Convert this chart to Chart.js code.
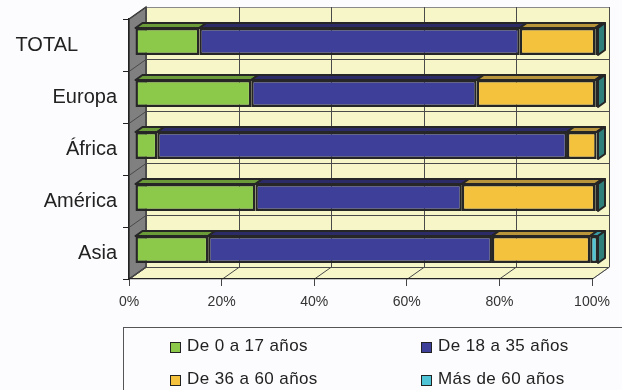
<!DOCTYPE html>
<html>
<head>
<meta charset="utf-8">
<script src="https://cdn.jsdelivr.net/npm/chart.js@4.4.1/dist/chart.umd.min.js"></script>
<style>
  html, body { margin: 0; padding: 0; background: #fcfcfe; }
  #wrap { position: relative; width: 622px; height: 390px; overflow: hidden; }
  #legendBox {
    position: absolute; left: 123px; top: 327px; width: 620px; height: 80px;
    border: 1px solid #555; box-sizing: border-box;
  }
  .lg-item {
    position: absolute; font: 17px "Liberation Sans", Arial, sans-serif;
    letter-spacing: 0.4px; color: #222; line-height: 17px; white-space: nowrap;
  }
  .lg-sw {
    position: absolute; width: 9px; height: 9px; border: 1.5px solid #222;
  }
</style>
</head>
<body>
<div id="wrap">
  <canvas id="edadChart" width="622" height="390"></canvas>
  <div id="legendBox"></div>
</div>
<script>
/* ── Data ─────────────────────────────────────────────────── */
var categories = ['TOTAL       ', 'Europa', 'África', 'América', 'Asia'];
var seriesLabels = ['De 0 a 17 años', 'De 18 a 35 años', 'De 36 a 60 años', 'Más de 60 años'];
var age0to17  = [13.9, 25.1,  4.8, 26.0, 15.8];
var age18to35 = [69.2, 48.7, 88.5, 44.6, 61.3];
var age36to60 = [16.3, 25.6,  6.4, 28.8, 21.2];
var age60plus = [ 0.6,  0.6,  0.3,  0.6,  1.7];
var xTicks = [0, 20, 40, 60, 80, 100];

/* ── Styling ──────────────────────────────────────────────── */
var frontColors = ['#8cc94b', '#3d3f99', '#f5c23e', '#4fc4d6'];
var topColors   = ['#6b9a38', '#2c2b68', '#b8953a', '#3a9aa6'];
var sideColor   = '#2f7f7a';
var wallColor   = '#f6f6c8';
var depthX = 17, depthY = 12;      // wall depth
var barDX = 7, barDY = 5;          // bar depth
var barShiftX = 6, barShiftY = -3.5;
var FONT = '"Liberation Sans", Arial, sans-serif';

/* ── 3D walls, grid and bar faces ─────────────────────────── */
var box3d = {
  id: 'box3d',
  beforeDraw: function(chart) {
    var ctx = chart.ctx, a = chart.chartArea;
    var xs = chart.scales.x;
    var L = a.left, R = a.right, T = a.top, B = a.bottom;
    ctx.save();
    // back wall
    ctx.fillStyle = wallColor;
    ctx.fillRect(L + depthX, T - depthY, R - L, B - T);
    // floor
    ctx.beginPath();
    ctx.moveTo(L, B); ctx.lineTo(L + depthX, B - depthY);
    ctx.lineTo(R + depthX, B - depthY); ctx.lineTo(R, B);
    ctx.closePath(); ctx.fill();
    // left wall
    ctx.fillStyle = '#808080';
    ctx.beginPath();
    ctx.moveTo(L, T); ctx.lineTo(L + depthX, T - depthY);
    ctx.lineTo(L + depthX, B - depthY); ctx.lineTo(L, B);
    ctx.closePath(); ctx.fill();
    ctx.strokeStyle = '#2a2a2a'; ctx.lineWidth = 1.2;
    ctx.stroke();

    // back wall outline
    ctx.strokeStyle = '#8a8a8a'; ctx.lineWidth = 1;
    ctx.beginPath();
    ctx.moveTo(L + depthX, T - depthY + 0.5); ctx.lineTo(R + depthX + 0.5, T - depthY + 0.5);
    ctx.lineTo(R + depthX + 0.5, B - depthY);
    ctx.lineTo(R + 0.5, B);
    ctx.stroke();

    // vertical grid lines on back wall + floor diagonals
    ctx.strokeStyle = '#4a4a4a'; ctx.lineWidth = 1;
    xTicks.forEach(function(v) {
      var px = Math.round(xs.getPixelForValue(v)) + 0.5;
      ctx.beginPath();
      ctx.moveTo(px + depthX, T - depthY); ctx.lineTo(px + depthX, B - depthY);
      ctx.lineTo(px, B);
      ctx.stroke();
    });
    // horizontal grid lines at category boundaries
    var n = categories.length;
    for (var i = 0; i <= n; i++) {
      var py = Math.round(T + (B - T) * i / n) + 0.5;
      ctx.beginPath();
      ctx.moveTo(L, py); ctx.lineTo(L + depthX, py - depthY);
      if (i > 0) ctx.lineTo(R + depthX, py - depthY);
      ctx.stroke();
    }
    ctx.restore();
  },
  beforeDatasetsDraw: function(chart) {
    chart.ctx.save();
    chart.ctx.translate(barShiftX, barShiftY);
  },
  afterDatasetsDraw: function(chart) {
    var ctx = chart.ctx;
    var nSets = chart.data.datasets.length;
    ctx.lineWidth = 2;
    ctx.strokeStyle = '#262626';
    ctx.lineJoin = 'round';
    for (var d = 0; d < nSets; d++) {
      var meta = chart.getDatasetMeta(d);
      meta.data.forEach(function(bar) {
        var p = bar.getProps(['x', 'y', 'base', 'height'], true);
        var left = Math.min(p.base, p.x), right = Math.max(p.base, p.x);
        var top = p.y - p.height / 2, bottom = p.y + p.height / 2;
        ctx.fillStyle = topColors[d];
        ctx.beginPath();
        ctx.moveTo(left, top); ctx.lineTo(left + barDX, top - barDY);
        ctx.lineTo(right + barDX, top - barDY); ctx.lineTo(right, top);
        ctx.closePath(); ctx.fill(); ctx.stroke();
        if (d === nSets - 1) {
          ctx.fillStyle = sideColor;
          ctx.beginPath();
          ctx.moveTo(right, top); ctx.lineTo(right + barDX, top - barDY);
          ctx.lineTo(right + barDX, bottom - barDY); ctx.lineTo(right, bottom);
          ctx.closePath(); ctx.fill(); ctx.stroke();
        }
      });
    }
    ctx.restore();
  }
};

/* ── Chart ────────────────────────────────────────────────── */
var seriesData = [age0to17, age18to35, age36to60, age60plus];
var datasets = seriesData.map(function(vals, i) {
  return {
    label: seriesLabels[i],
    data: vals,
    backgroundColor: frontColors[i],
    borderColor: '#262626',
    borderWidth: 2.4,
    borderSkipped: false,
    barPercentage: 0.52,
    categoryPercentage: 1,
    clip: false
  };
});

new Chart(document.getElementById('edadChart'), {
  type: 'bar',
  data: { labels: categories, datasets: datasets },
  plugins: [box3d],
  options: {
    indexAxis: 'y',
    responsive: false,
    animation: false,
    events: [],
    layout: { padding: { top: 19, right: 30, bottom: 71, left: 0 } },
    plugins: { legend: { display: false }, tooltip: { enabled: false } },
    scales: {
      x: {
        stacked: true, min: 0, max: 100,
        afterFit: function(s) { s.height = 40; },
        ticks: {
          stepSize: 20, padding: 8, color: '#333',
          font: { family: FONT, size: 14 },
          callback: function(v) { return v + '%'; }
        },
        grid: { drawOnChartArea: false, tickLength: 7, color: '#444' },
        border: { color: '#222', width: 1.2 }
      },
      y: {
        stacked: true,
        afterFit: function(s) { s.width = 129; },
        ticks: { padding: 6, color: '#222', font: { family: FONT, size: 20 } },
        grid: { drawOnChartArea: false, tickLength: 6, color: '#222', offset: true },
        border: { color: '#222', width: 1.2 }
      }
    }
  }
});

/* ── HTML legend (2 x 2) ──────────────────────────────────── */
var legendBox = document.getElementById('legendBox');
var legendPos = [[46, 9], [297, 9], [46, 42], [297, 42]];
seriesLabels.forEach(function(lbl, i) {
  var sw = document.createElement('div');
  sw.className = 'lg-sw';
  sw.style.background = frontColors[i];
  sw.style.left = legendPos[i][0] + 'px';
  sw.style.top = (legendPos[i][1] + 5) + 'px';
  legendBox.appendChild(sw);
  var tx = document.createElement('div');
  tx.className = 'lg-item';
  tx.textContent = lbl;
  tx.style.left = (legendPos[i][0] + 17) + 'px';
  tx.style.top = legendPos[i][1] + 'px';
  legendBox.appendChild(tx);
});
</script>
</body>
</html>
